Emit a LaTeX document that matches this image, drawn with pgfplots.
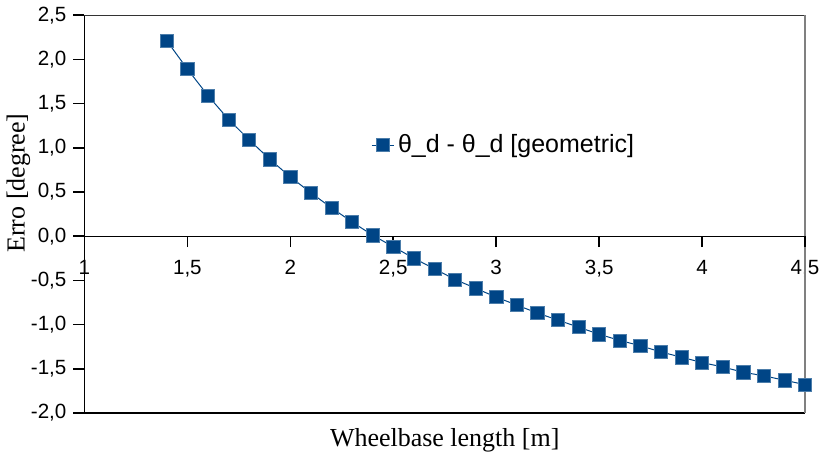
\documentclass[border=0pt]{standalone}
\usepackage{pgfplots}
\pgfplotsset{compat=1.18}
\usepackage{fontspec}
\setmainfont{Liberation Serif}
\setsansfont{Liberation Sans}
\definecolor{serie}{HTML}{004586}

\begin{document}
\begin{tikzpicture}
\begin{axis}[
    scale only axis,
    width=360.5pt, height=199pt,
    xmin=1, xmax=4.5,
    ymin=-2, ymax=2.5,
    axis x line=middle,
    axis y line=left,
    hide obscured x ticks=false,
    axis line style={-, line width=0.6pt},
    xtick={1,1.5,2,2.5,3,3.5,4,4.5},
    ytick={-2,-1.5,-1,-0.5,0,0.5,1,1.5,2,2.5},
    tick align=outside,
    major tick length=5.5pt,
    tick style={black, line width=0.8pt},
    /pgf/number format/assume math mode=true,
    ticklabel style={font=\sffamily\fontsize{10.3}{12}\selectfont},
    xticklabel style={
        /pgf/number format/fixed,
        /pgf/number format/precision=1,
        /pgf/number format/use comma,
        yshift=-3pt
    },
    yticklabel style={
        /pgf/number format/fixed,
        /pgf/number format/fixed zerofill,
        /pgf/number format/precision=1,
        /pgf/number format/use comma,
        xshift=0pt
    },
    clip=false,
    legend style={
        at={(axis cs:2.39,1.03)},
        anchor=west,
        draw=none, fill=none,
        inner sep=0pt,
        font=\sffamily\fontsize{12.5}{14}\selectfont
    },
    legend image code/.code={
        \draw[mark repeat=2, mark phase=2, #1]
            plot coordinates {(0pt,0pt) (5.5pt,0pt) (11pt,0pt)};
    },
]

    % rámeček
    \draw[line width=0.6pt, black!80] (rel axis cs:0,1) -- (rel axis cs:1,1);
    \draw[line width=0.6pt] (rel axis cs:0,0) -- (rel axis cs:1,0);
    \draw[line width=1pt, gray] (rel axis cs:1,0) -- (rel axis cs:1,1);

    % značky na osách
    \pgfplotsinvokeforeach{1,1.5,2,2.5,3,3.5,4,4.5}{
        \draw[line width=0.8pt] (axis cs:#1,0) -- ([yshift=-5.5pt]axis cs:#1,0);
    }
    \pgfplotsinvokeforeach{-2,-1.5,-1,-0.5,0,0.5,1,1.5,2,2.5}{
        \draw[line width=0.8pt] (axis cs:1,#1) -- ([xshift=-5.5pt]axis cs:1,#1);
    }

    \addplot[
        color=serie,
        line width=0.5pt,
        mark=square*,
        mark size=3.3pt,
        mark options={fill=serie, draw=serie!70!white, line width=0.3pt}
    ] coordinates {
        (1.4,2.21) (1.5,1.89) (1.6,1.59) (1.7,1.32) (1.8,1.09)
        (1.9,0.87) (2.0,0.67) (2.1,0.49) (2.2,0.32) (2.3,0.16)
        (2.4,0.01) (2.5,-0.12) (2.6,-0.25) (2.7,-0.37) (2.8,-0.49)
        (2.9,-0.59) (3.0,-0.69) (3.1,-0.78) (3.2,-0.87) (3.3,-0.95)
        (3.4,-1.03) (3.5,-1.11) (3.6,-1.18) (3.7,-1.24) (3.8,-1.31)
        (3.9,-1.37) (4.0,-1.43) (4.1,-1.48) (4.2,-1.54) (4.3,-1.58)
        (4.4,-1.63) (4.5,-1.68)
    };
    \addlegendentry{θ\_d - θ\_d [geometric]}

    \node[font=\fontsize{13}{15}\selectfont, anchor=center]
        at ([yshift=-13.5pt]rel axis cs:0.5,0) {Wheelbase length [m]};
    \node[font=\fontsize{13}{15}\selectfont, anchor=center, rotate=90]
        at ([xshift=-33pt]rel axis cs:0,0.578) {Erro [degree]};
\end{axis}
\end{tikzpicture}
\end{document}
